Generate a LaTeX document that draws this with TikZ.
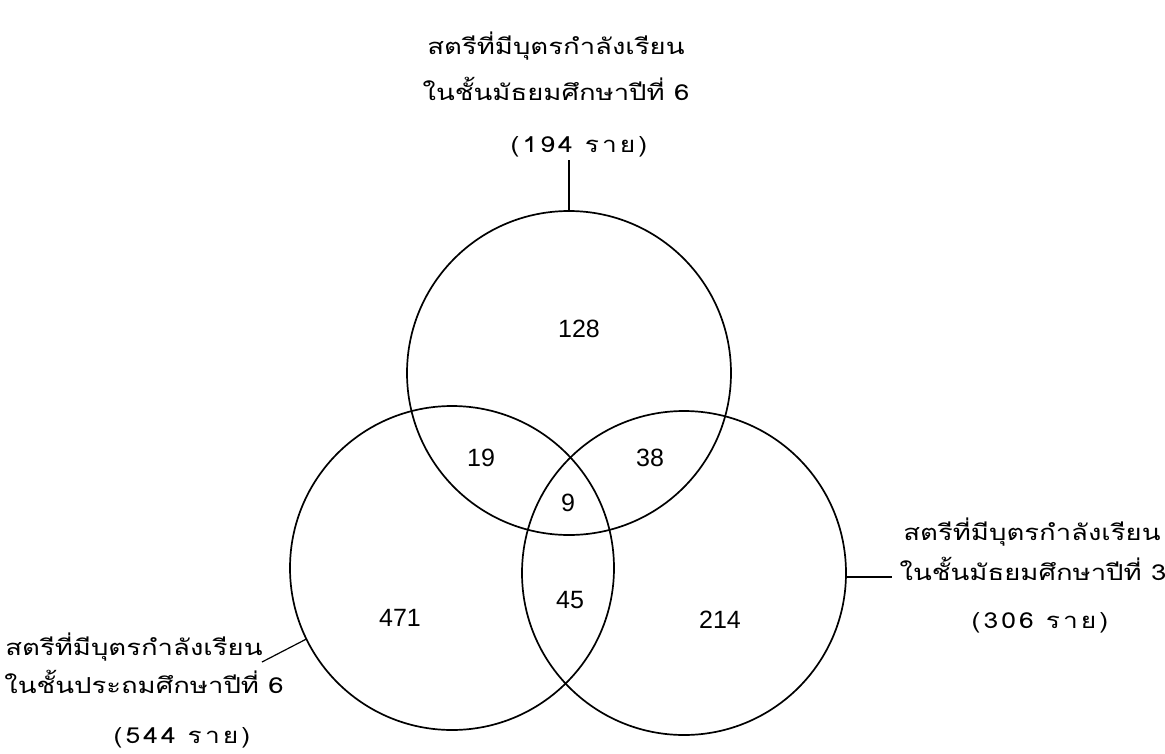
\documentclass[tikz,border=0pt]{standalone}
\usepackage{fontspec}
\newfontfamily\thaifont[Script=Thai,FakeStretch=1.25]{Loma}
\newfontfamily\thaispaced[Script=Thai,FakeStretch=1.2,LetterSpace=14]{Loma}
\newfontfamily\numfont{Liberation Sans}
\tikzset{
  venn/.style={draw=black, circle, minimum size=324pt, inner sep=0pt, outer sep=0pt, line width=1.7pt},
  num/.style={font=\numfont\fontsize{25}{27}\selectfont, inner sep=0pt},
  lbl/.style={font=\thaifont\fontsize{22}{24}\selectfont, anchor=base, inner sep=0pt},
  cnt/.style={font=\thaispaced\fontsize{22}{24}\selectfont, anchor=base, inner sep=0pt},
  conn/.style={line width=1.2pt}
}
\begin{document}
\begin{tikzpicture}[x=1pt,y=-1pt]
\useasboundingbox (0,0) rectangle (1165,753);
% circles
\node[venn] (top) at (569,373) {};
\node[venn] (left) at (452,568) {};
\node[venn] (right) at (684,573) {};
% numbers
\node[num] (n128) at (579,329) {128};
\node[num] (n19) at (481,458) {19};
\node[num] (n38) at (650,458) {38};
\node[num] (n9) at (568,503) {9};
\node[num] (n45) at (570,600) {45};
\node[num] (n471) at (400,618) {471};
\node[num] (n214) at (720,620) {214};
% top label
\node[lbl] (t1) at (556,54) {สตรีที่มีบุตรกำลังเรียน};
\node[lbl] (t2) at (556,100) {ในชั้นมัธยมศึกษาปีที่ 6};
\node[cnt] (t3) at (579,152) {(194 ราย)};
% right label
\node[lbl] (r1) at (1032,540) {สตรีที่มีบุตรกำลังเรียน};
\node[lbl] (r2) at (1033,580) {ในชั้นมัธยมศึกษาปีที่ 3};
\node[cnt] (r3) at (1040,628) {(306 ราย)};
% left label
\node[lbl] (l1) at (134,655) {สตรีที่มีบุตรกำลังเรียน};
\node[lbl] (l2) at (144,693) {ในชั้นประถมศึกษาปีที่ 6};
\node[cnt] (l3) at (182,743) {(544 ราย)};
% connectors
\coordinate (tc) at (566,160);
\coordinate (rc) at (892,577);
\coordinate (lc) at (262,662);
\draw[conn] (top.north) -- (top.north |- tc);
\draw[conn] (rc -| right.east) -- (rc);
\draw[conn] (left.206) -- (lc);
\end{tikzpicture}
\end{document}
